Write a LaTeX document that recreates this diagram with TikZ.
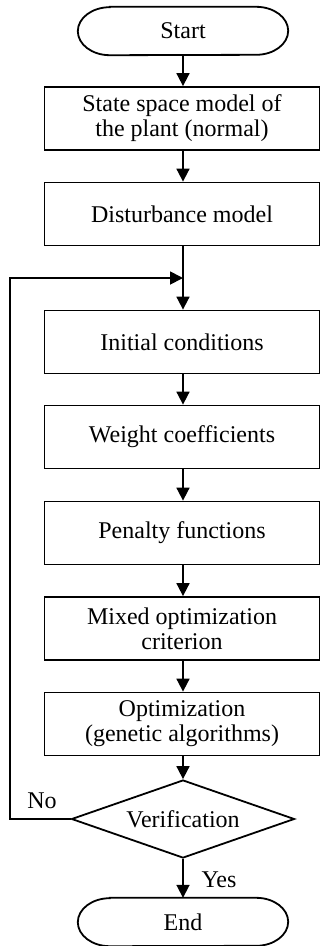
\documentclass[tikz,border=0pt]{standalone}
\usepackage{fontspec}
\setmainfont{Liberation Serif}
\usetikzlibrary{arrows.meta,shapes.geometric}
\begin{document}
\begin{tikzpicture}[x=1pt,y=1pt,
  every node/.style={font=\fontsize{24}{25}\selectfont, inner sep=0pt},
  box/.style={draw, line width=1.8pt, minimum width=275pt, minimum height=63pt, align=center},
  term/.style={minimum width=210pt, minimum height=48pt},
  dec/.style={draw, line width=1.8pt, diamond, aspect=2.86, minimum width=223pt, minimum height=78pt},
  lbl/.style={},
  conn/.style={line width=1.8pt},
  arr/.style={conn, -{Triangle[width=13pt,length=13pt]}}]
\useasboundingbox (0,0) rectangle (320,-946);
\node[term] (start) at (183,-31) {Start};
\node[box] (b1) at (182,-118.5) {State space model of\\the plant (normal)};
\node[box] (b2) at (182,-214) {Disturbance model};
\coordinate (j) at (183,-278);
\node[box] (b3) at (182,-342) {Initial conditions};
\node[box] (b4) at (182,-437) {Weight coefficients};
\node[box] (b5) at (182,-533) {Penalty functions};
\node[box] (b6) at (182,-628.5) {Mixed optimization\\criterion};
\node[box] (b7) at (182,-724) {Optimization\\(genetic algorithms)};
\node[dec] (v) at (183,-819) {Verification};
\node[term] (end) at (183,-922) {End};
\coordinate (lc) at (10,-819);
\node[lbl] (no) at (42,-801) {No};
\node[lbl] (yes) at (219,-880) {Yes};
% terminal outlines
\draw[conn] ([xshift=32pt]start.north west) -- ([xshift=-32pt]start.north east)
  arc[start angle=90, end angle=-90, x radius=32pt, y radius=24pt]
  -- ([xshift=32pt]start.south west)
  arc[start angle=270, end angle=90, x radius=32pt, y radius=24pt] -- cycle;
\draw[conn] ([xshift=32pt]end.north west) -- ([xshift=-32pt]end.north east)
  arc[start angle=90, end angle=-90, x radius=32pt, y radius=24pt]
  -- ([xshift=32pt]end.south west)
  arc[start angle=270, end angle=90, x radius=32pt, y radius=24pt] -- cycle;
% connectors
\draw[arr] (start.south) -- (start.south |- b1.north);
\draw[arr] (b1.south -| start.south) -- (start.south |- b2.north);
\draw[conn] (b2.south -| j) -- (j);
\draw[arr] (j) -- (j |- b3.north);
\draw[arr] (b3.south -| j) -- (j |- b4.north);
\draw[arr] (b4.south -| j) -- (j |- b5.north);
\draw[arr] (b5.south -| j) -- (j |- b6.north);
\draw[arr] (b6.south -| j) -- (j |- b7.north);
\draw[arr] (b7.south -| j) -- (v.north);
\draw[arr] (v.south) -- (end.north);
\draw[arr] (v.west) -- (lc) |- (j);
\end{tikzpicture}
\end{document}
